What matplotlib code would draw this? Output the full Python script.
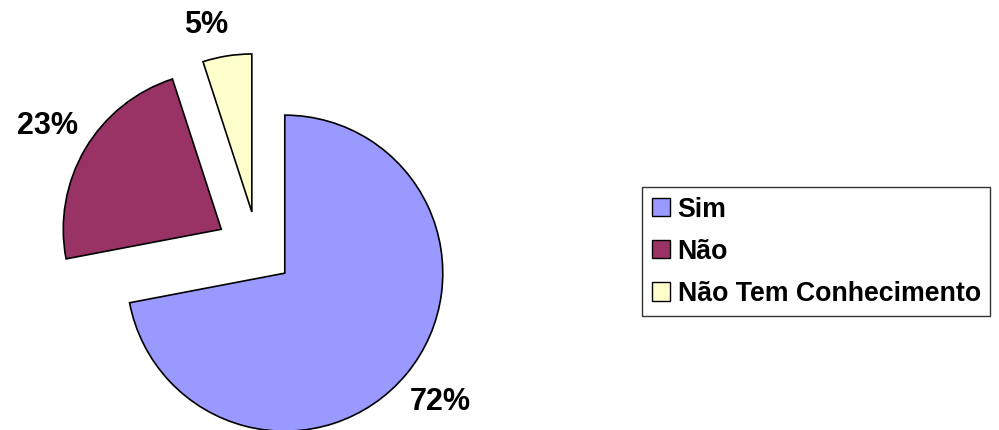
"""
Кругова діаграма: Sim / Não / Não Tem Conhecimento
"""

import numpy as np
import matplotlib
matplotlib.use('Agg')
import matplotlib.pyplot as plt

# Дані
labels = ['Sim', 'Não', 'Não Tem Conhecimento']
values = [72, 23, 5]
colors = ['#9999FF', '#993366', '#FFFFCC']
explode = [0.22, 0.27, 0.25]

plt.rcParams['font.family'] = ['Liberation Sans', 'DejaVu Sans']

fig = plt.figure(figsize=(9.99, 4.30), dpi=100)
ax = fig.add_axes([0, 0, 1, 1])

wedges, texts, autotexts = ax.pie(
    values, colors=colors, explode=explode, startangle=90, counterclock=False,
    autopct='%.0f%%', pctdistance=1.28, radius=1,
    wedgeprops={'edgecolor': 'black', 'linewidth': 1.2},
    textprops={'fontsize': 22, 'fontweight': 'bold', 'color': 'black'})

# Мітка 5% ближче до свого сектора
w = wedges[2]
theta = np.deg2rad((w.theta1 + w.theta2) / 2)
cxw, cyw = w.center
autotexts[2].set_position((cxw + 1.2 * np.cos(theta) - 0.1, cyw + 1.2 * np.sin(theta)))

# Масштаб: 158 px на одиницю радіуса, центр у (258, 251) px
scale = 158
cx, cy = 258, 251
ax.set_xlim(-cx / scale, (999 - cx) / scale)
ax.set_ylim(-(430 - cy) / scale, cy / scale)
ax.set_aspect('auto')
ax.axis('off')

leg = ax.legend(wedges, labels, loc='upper left',
                bbox_to_anchor=(642 / 999, 1 - 187 / 430),
                bbox_transform=fig.transFigure,
                prop={'size': 19.3, 'weight': 'bold'},
                frameon=True, fancybox=False, edgecolor='black',
                handlelength=0.67, handleheight=0.67, handletextpad=0.3,
                labelspacing=0.6, borderpad=0.36, borderaxespad=0)
leg.get_frame().set_linewidth(1.0)
for h in leg.legend_handles:
    h.set_linewidth(1.0)

fig.savefig('out.png', dpi=100)
